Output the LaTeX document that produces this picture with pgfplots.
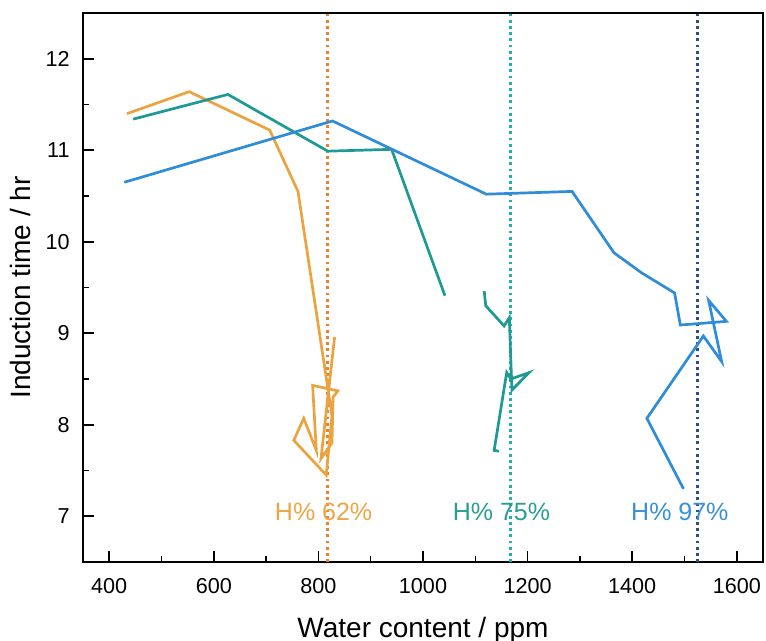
\documentclass[border=0pt]{standalone}
\usepackage{fontspec}
\setmainfont{Liberation Sans}
\usepackage{pgfplots}
\pgfplotsset{compat=1.18}
\definecolor{sorange}{HTML}{EBA33F}
\definecolor{lorange}{HTML}{E9812F}
\definecolor{steal}{HTML}{1E9A94}
\definecolor{lteal}{HTML}{22B0AE}
\definecolor{sblue}{HTML}{2E8CD8}
\definecolor{lblue}{HTML}{2D4F89}
\definecolor{torange}{HTML}{EDA545}
\definecolor{tteal}{HTML}{2A9D95}
\definecolor{tblue}{HTML}{3A90D6}
\begin{document}
\begin{tikzpicture}
\useasboundingbox (-41.5pt,-39.5pt) rectangle (341.5pt,281pt);
\begin{axis}[
  scale only axis, width=340pt, height=274.5pt,
  xmin=350, xmax=1650, ymin=6.5, ymax=12.5,
  xtick={400,600,...,1600}, ytick={7,8,...,12},
  minor x tick num=1, minor y tick num=1,
  tick align=inside, xtick pos=bottom, ytick pos=left,
  major tick length=5.5pt, minor tick length=3pt,
  every tick/.style={black, line width=0.8pt},
  axis line style={line width=0.9pt},
  tick label style={font=\fontsize{10.8}{12}\selectfont},
  /pgf/number format/assume math mode=true,
  /pgf/number format/1000 sep={},
  xticklabel style={inner sep=0pt, yshift=-8pt},
  yticklabel style={inner sep=0pt, xshift=-6.5pt},
  xlabel={Water content / ppm},
  ylabel={Induction time / hr},
  label style={font=\fontsize{14}{16}\selectfont},
  xlabel style={at={(axis description cs:0.5,0)}, anchor=base, inner sep=0pt, yshift=-38pt},
  ylabel style={at={(axis description cs:-0.0765,0.5)}, anchor=base, inner sep=0pt},
  clip=false,
]
% vertical dotted reference lines
\addplot[lorange, line width=1.5pt, dash pattern=on 1.4pt off 1.7pt] coordinates {(818,6.5) (818,12.5)};
\addplot[lteal, line width=1.5pt, dash pattern=on 1.4pt off 1.7pt] coordinates {(1168,6.5) (1168,12.5)};
\addplot[lblue, line width=1.5pt, dash pattern=on 1.4pt off 1.7pt] coordinates {(1525,6.5) (1525,12.5)};
% H% 62%
\addplot[sorange, line width=1.35pt, line join=miter] coordinates {
(434,11.40) (553,11.64) (707,11.22) (761,10.55) (826,8.10) (815,7.45)
(753,7.83) (772,8.07) (796,7.72) (789,8.43) (837,8.37) (828,8.30)
(826,7.80) (805,7.63) (831,8.96)};
% H% 75%
\addplot[steal, line width=1.35pt] coordinates {
(446,11.34) (627,11.61) (818,10.99) (940,11.01) (1042,9.41)};
\addplot[steal, line width=1.35pt] coordinates {
(1117,9.46) (1120,9.30) (1155,9.08) (1165,9.17) (1170,8.38) (1203,8.57)
(1168,8.50) (1160,8.57) (1136,7.72) (1145,7.71)};
% H% 97%
\addplot[sblue, line width=1.35pt] coordinates {
(429,10.65) (827,11.32) (1121,10.52) (1285,10.55) (1365,9.88) (1418,9.66)
(1481,9.44) (1492,9.09) (1580,9.13) (1546,9.36) (1571,8.69) (1536,8.97)
(1428,8.07) (1498,7.30)};
\node[torange, anchor=base, font=\fontsize{12.5}{14}\selectfont] at (axis cs:810,6.95) {H\% 62\%};
\node[tteal, anchor=base, font=\fontsize{12.5}{14}\selectfont] at (axis cs:1150,6.95) {H\% 75\%};
\node[tblue, anchor=base, font=\fontsize{12.5}{14}\selectfont] at (axis cs:1491,6.95) {H\% 97\%};
\end{axis}
\end{tikzpicture}
\end{document}
